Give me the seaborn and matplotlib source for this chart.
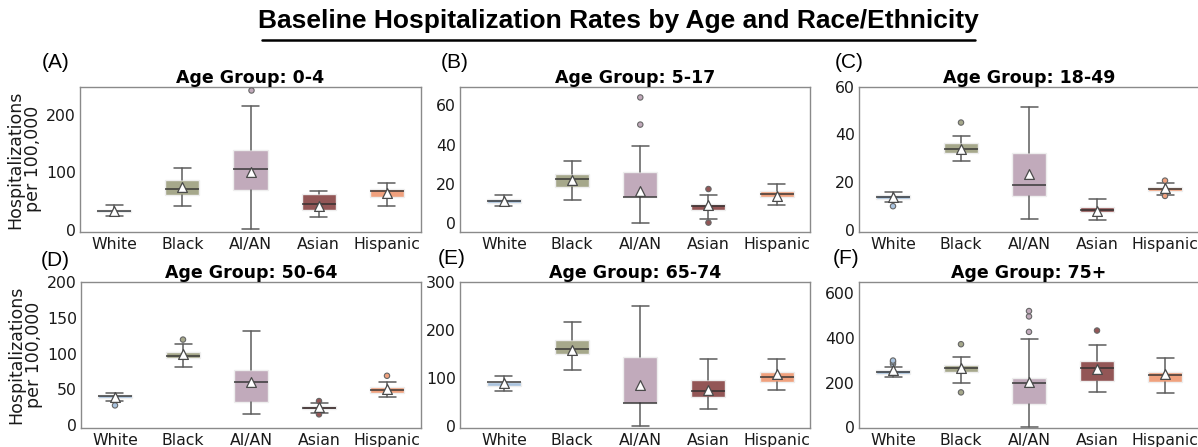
import pandas as pd
import seaborn as sns
import matplotlib.pyplot as plt
from matplotlib.lines import Line2D

# Data (per age group, per race/ethnicity)
RACES = ['White', 'Black', 'AI/AN', 'Asian', 'Hispanic']
AGE_GROUPS = ['0-4', '5-17', '18-49', '50-64', '65-74', '75+']
PANEL_LABELS = ['(A)', '(B)', '(C)', '(D)', '(E)', '(F)']

MEDIANS = [
    [33, 70, 105, 44.5, 67],
    [11, 22.3, 12.9, 8.5, 14.6],
    [13.9, 34.1, 18.8, 8.5, 17.2],
    [40.3, 97.2, 60.2, 24.5, 49],
    [91, 160.7, 49, 73, 102.8],
    [246, 265.6, 197, 264, 234.4],
]
Q1 = [
    [30, 59.5, 69, 34, 57],
    [10, 18.2, 12.9, 6.3, 13.3],
    [13.1, 32.1, 14.3, 7.5, 16.5],
    [38, 93.5, 31.9, 22.2, 44.4],
    [84, 149.7, 49, 60.7, 91],
    [239, 246, 102, 209, 203],
]
Q3 = [
    [34.7, 86, 139, 62, 70.5],
    [12.1, 24.8, 25.9, 9.7, 16],
    [14.7, 36.6, 32.3, 9.6, 18.1],
    [42.1, 102.8, 76.9, 26.9, 53.2],
    [93, 179, 144.8, 96.6, 113],
    [255, 277, 221, 298, 246],
]
WHISK_LO = [
    [23, 41, 0.6, 22, 41.6],
    [8.7, 11.6, 0, 1.9, 9],
    [11.8, 29.1, 4.7, 4.2, 14.7],
    [33.3, 81, 16.2, 17.1, 38.9],
    [72.4, 117, 0, 36.6, 75],
    [224, 200, 0, 157, 151],
]
WHISK_HI = [
    [42.8, 107.5, 214.5, 66.5, 82],
    [14, 31.8, 39.1, 14.1, 19.9],
    [16.1, 39.5, 51.6, 13.1, 19.9],
    [44.4, 113.4, 131, 31, 60.6],
    [104, 217, 249, 140, 140.7],
    [270, 316, 395, 369, 311.6],
]
MEANS = [
    [33, 74.6, 100, 42, 63],
    [11, 22, 16.3, 8.8, 13.8],
    [13.8, 34, 23.4, 8.1, 17.8],
    [40, 99, 61, 25, 51],
    [89.7, 158, 86, 76, 107.6],
    [254, 267, 202, 260, 237],
]
FLIERS = [
    [[], [], [243], [], []],
    [[], [], [50.2, 64.1], [0, 17.2], []],
    [[10], [45], [], [], [14.3, 20.7]],
    [[27.8], [119.4], [], [15.3, 33.8], [69]],
    [[], [], [], [], []],
    [[283, 292, 298], [156, 371], [426, 495, 519], [432], []],
]
Y_TICKS = [
    [0, 100, 200],
    [0, 20, 40, 60],
    [0, 20, 40, 60],
    [0, 50, 100, 150, 200],
    [0, 100, 200, 300],
    [0, 200, 400, 600],
]

# styling
BOX_COLORS = ['#a9c3df', '#a6a88b', '#c1aabb', '#935656', '#f0a17e']
Y_LIMS = [(-4, 248.6), (-4.8, 69.6), (-0.8, 60), (-3.7, 200), (-3.4, 300), (-3, 650)]
X_LIMS = [(-0.5, 4.5), (-0.645, 4.49), (-0.5, 4.5), (-0.5, 4.5), (-0.645, 4.49), (-0.5, 4.5)]
W, H = 1198, 447
# axes boxes in pixels: left, top, right, bottom
AX_PX = [(80, 86.7, 421, 232), (460, 86.7, 810, 232), (859, 86.7, 1199, 232),
         (81, 281.7, 421, 428), (460, 281.7, 810, 428), (859, 281.7, 1199, 428)]
LABEL_PX = [(42, 63), (441, 63), (835, 62), (41, 261), (438, 258), (833, 259)]

sns.set_style("white")
plt.rcParams['font.family'] = ['DejaVu Sans']
plt.rcParams['text.color'] = 'black'

fig = plt.figure(figsize=(W / 100, H / 100), dpi=100)

for i, age in enumerate(AGE_GROUPS):
    l, t, r, b = AX_PX[i]
    ax = fig.add_axes([l / W, 1 - b / H, (r - l) / W, (b - t) / H])

    stats = []
    for j, race in enumerate(RACES):
        stats.append(dict(med=MEDIANS[i][j], q1=Q1[i][j], q3=Q3[i][j],
                          whislo=WHISK_LO[i][j], whishi=WHISK_HI[i][j],
                          fliers=[], label=race))
    parts = ax.bxp(stats, positions=range(len(RACES)), widths=0.5, patch_artist=True,
                   showfliers=False,
                   whiskerprops=dict(color='#5c5c5c', linewidth=1.1),
                   capprops=dict(color='#5c5c5c', linewidth=1.1),
                   medianprops=dict(color='#2e2e2e', linewidth=1.2, alpha=0.85),
                   boxprops=dict(linewidth=1.0))
    for patch, c in zip(parts['boxes'], BOX_COLORS):
        patch.set_facecolor(c)
        patch.set_edgecolor('#eeeeee')

    # outliers
    fl = pd.DataFrame([(j, v, RACES[j]) for j in range(len(RACES)) for v in FLIERS[i][j]],
                      columns=['pos', 'value', 'race'])
    if len(fl):
        sns.scatterplot(data=fl, x='pos', y='value', hue='race',
                        palette=dict(zip(RACES, BOX_COLORS)), s=15,
                        edgecolor='#666666', linewidth=0.8, legend=False, ax=ax, zorder=4)

    # means
    mdf = pd.DataFrame({'pos': range(len(RACES)), 'mean': MEANS[i]})
    sns.scatterplot(data=mdf, x='pos', y='mean', marker='^', color='white', s=50,
                    edgecolor='#4a4a4a', linewidth=0.9, legend=False, ax=ax, zorder=5)

    ax.set_xlim(*X_LIMS[i])
    ax.set_ylim(*Y_LIMS[i])
    ax.set_xticks(range(len(RACES)))
    ax.set_xticklabels(RACES)
    ax.set_yticks(Y_TICKS[i])
    ax.set_xlabel('')
    ax.set_ylabel('')
    ax.tick_params(axis='both', labelsize=11.3, labelcolor='#1a1a1a', color='#8a8a8a')
    ax.tick_params(axis='x', length=3, width=0.8, pad=0.5)
    ax.tick_params(axis='y', length=0, pad=3)
    for s in ax.spines.values():
        s.set_color('#8a8a8a')
        s.set_linewidth(1.0)
    ax.set_title(f'Age Group: {age}', fontsize=12.5, fontweight='bold', pad=3,
                 color='black')
    if i % 3 == 0:
        ax.set_ylabel('Hospitalizations\nper 100,000', fontsize=12.5, labelpad=3,
                      linespacing=0.95, color='#1a1a1a')

    lx, ly = LABEL_PX[i]
    fig.text(lx / W, 1 - ly / H, PANEL_LABELS[i], fontsize=15, va='center', ha='left',
             family=['Liberation Sans', 'DejaVu Sans'])

# main title with underline
fig.text(618 / W, 1 - 21 / H, 'Baseline Hospitalization Rates by Age and Race/Ethnicity',
         fontsize=19, fontweight='bold', ha='center', va='center',
         family=['Liberation Sans', 'DejaVu Sans'])
fig.add_artist(Line2D([262 / W, 975 / W], [1 - 39.5 / H, 1 - 39.5 / H],
                      color='black', linewidth=1.8, transform=fig.transFigure))

plt.savefig('out.png', dpi=100)
plt.close()
